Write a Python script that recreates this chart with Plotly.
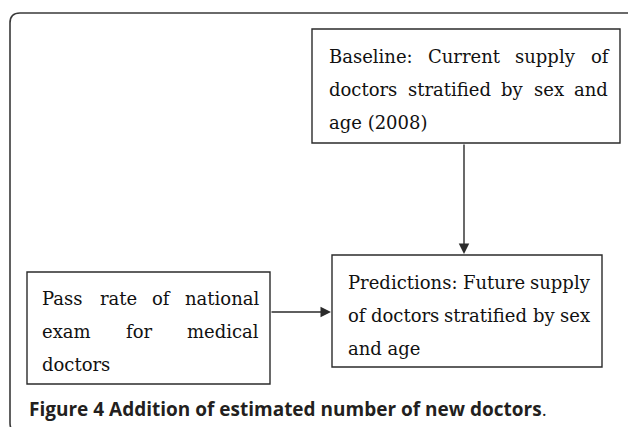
import plotly.graph_objects as go

# ---- content ----
baseline_lines = [["Baseline:", "Current", "supply", "of"],
                  ["doctors", "stratified", "by", "sex", "and"],
                  ["age (2008)"]]
pass_lines = [["Pass", "rate", "of", "national"],
              ["exam", "for", "medical"],
              ["doctors"]]
pred_lines = [["Predictions:", "Future", "supply"],
              ["of", "doctors", "stratified", "by", "sex"],
              ["and age"]]
caption_bold = "Figure 4 Addition of estimated number of new doctors"
caption_tail = "."

# ---- layout (pixel coordinates, y downwards) ----
W, H = 628, 427
SERIF = "DejaVu Serif"
FS = 18
TXT = "#111111"
LINE = "#2b2b2b"

# approximate DejaVu Serif advance widths (em), used only to justify lines
EM = {' ': .318, ':': .34, '(': .39, ')': .39, 'a': .60, 'b': .64, 'c': .56,
      'd': .64, 'e': .59, 'f': .37, 'g': .64, 'h': .64, 'i': .32, 'l': .32,
      'm': .95, 'n': .64, 'o': .60, 'p': .64, 'r': .48, 's': .51, 't': .40,
      'u': .64, 'x': .57, 'y': .57, 'B': .74, 'C': .73, 'F': .72, 'P': .73}

def wwidth(s):
    return sum(EM.get(ch, .64) for ch in s) * FS

fig = go.Figure()

def rect(x0, y0, x1, y1):
    fig.add_shape(type="rect", x0=x0, y0=y0, x1=x1, y1=y1,
                  line=dict(color=LINE, width=1.4), fillcolor="rgba(0,0,0,0)",
                  xref="x", yref="y", layer="above")

def word(x, y, s):
    fig.add_annotation(x=x, y=y, text=s, showarrow=False, xanchor="left",
                       yanchor="middle", xref="x", yref="y",
                       font=dict(family=SERIF, size=FS, color=TXT))

def paragraph(lines, xl, xr, rows):
    for i, (words, yy) in enumerate(zip(lines, rows)):
        last_line = i == len(lines) - 1
        if last_line or len(words) == 1:
            word(xl, yy, " ".join(words))
            continue
        widths = [wwidth(w) for w in words]
        gap = (xr - xl - sum(widths)) / (len(words) - 1)
        x = xl
        for w, wd in zip(words, widths):
            word(x, yy, w)
            x += wd + gap

# outer rounded frame (right and bottom edges run past the page)
r = 10
x0, y0, x1, y1 = 10, 13, 637, 433
path = (f"M {x0+r},{y0} L {x1-r},{y0} Q {x1},{y0} {x1},{y0+r} "
        f"L {x1},{y1-r} Q {x1},{y1} {x1-r},{y1} L {x0+r},{y1} "
        f"Q {x0},{y1} {x0},{y1-r} L {x0},{y0+r} Q {x0},{y0} {x0+r},{y0} Z")
fig.add_shape(type="path", path=path, line=dict(color="#3a3a3a", width=1.6),
              xref="x", yref="y")

# boxes
rect(312, 29, 620, 143)      # baseline
rect(332, 255, 602, 367)     # predictions
rect(27, 272, 270, 384)      # pass rate

paragraph(baseline_lines, 327, 606, [56, 89, 122])
paragraph(pass_lines, 40, 257, [298, 331, 364])
paragraph(pred_lines, 346, 588, [282, 315, 348])

# arrows
fig.add_annotation(x=464, y=254, ax=464, ay=143, xref="x", yref="y",
                   axref="x", ayref="y", text="", showarrow=True,
                   arrowhead=2, arrowsize=1.5, arrowwidth=1.4, arrowcolor=LINE)
fig.add_annotation(x=331, y=312, ax=270, ay=312, xref="x", yref="y",
                   axref="x", ayref="y", text="", showarrow=True,
                   arrowhead=2, arrowsize=1.5, arrowwidth=1.4, arrowcolor=LINE)

# caption
fig.add_annotation(x=27, y=409, xref="x", yref="y", showarrow=False,
                   xanchor="left", yanchor="middle",
                   text=f"<b>{caption_bold}</b>{caption_tail}",
                   font=dict(family="Open Sans", size=19, color="#231f20"))

fig.update_xaxes(range=[0, W], visible=False, fixedrange=True)
fig.update_yaxes(range=[H, 0], visible=False, fixedrange=True)
fig.update_layout(width=W, height=H, margin=dict(l=0, r=0, t=0, b=0),
                  paper_bgcolor="white", plot_bgcolor="white",
                  showlegend=False)

fig.write_html("out.html", config={"displayModeBar": False},
               post_script="document.body.style.margin='0';")
